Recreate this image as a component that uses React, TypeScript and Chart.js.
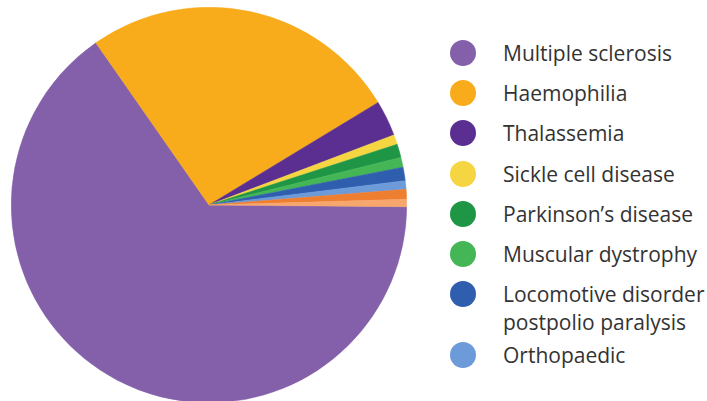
import React, { useEffect, useRef } from "react";
import { Chart, registerables } from "chart.js";

Chart.register(...registerables);

const categories = [
  "Multiple sclerosis",
  "Haemophilia",
  "Thalassemia",
  "Sickle cell disease",
  "Parkinson's disease",
  "Muscular dystrophy",
  "Locomotive disorder postpolio paralysis",
  "Orthopaedic",
  "Other (a)",
  "Other (b)",
];

const legendLines: string[][] = [
  ["Multiple sclerosis"],
  ["Haemophilia"],
  ["Thalassemia"],
  ["Sickle cell disease"],
  ["Parkinson\u2019s disease"],
  ["Muscular dystrophy"],
  ["Locomotive disorder", "postpolio paralysis"],
  ["Orthopaedic"],
  [],
  [],
];

const shownInLegend = [true, true, true, true, true, true, true, true, false, false];

const shares = [65.1, 26.0, 2.9, 0.8, 1.1, 0.8, 1.1, 0.7, 0.8, 0.6];

const colors = [
  "#8460aa",
  "#f8ab1b",
  "#5b2f91",
  "#f6d543",
  "#1f9546",
  "#44b655",
  "#2f5eae",
  "#6d9ad9",
  "#ee7e30",
  "#f7a66d",
];

export default function App() {
  const canvasRef = useRef<HTMLCanvasElement | null>(null);

  useEffect(() => {
    if (!canvasRef.current) return;
    const chart = new Chart(canvasRef.current, {
      type: "pie",
      data: {
        labels: categories,
        datasets: [
          {
            data: shares,
            backgroundColor: colors,
            borderColor: colors,
            borderWidth: 0.5,
          },
        ],
      },
      options: {
        animation: false,
        responsive: false,
        rotation: 90.5,
        layout: { padding: 0 },
        plugins: {
          legend: { display: false },
          tooltip: { enabled: false },
        },
      },
    });
    return () => chart.destroy();
  }, []);

  return (
    <div
      style={{
        position: "absolute",
        left: 0,
        top: 0,
        width: 707,
        height: 401,
        background: "#ffffff",
        overflow: "hidden",
      }}
    >
      <canvas
        ref={canvasRef}
        width={396}
        height={396}
        style={{ position: "absolute", left: 11, top: 7, width: 396, height: 396 }}
      />
      <div
        style={{
          position: "absolute",
          left: 450,
          top: 39,
          display: "flex",
          flexDirection: "column",
          gap: 12.2,
          fontFamily: "'Open Sans', Lato, sans-serif",
          fontSize: 21,
          color: "#333333",
        }}
      >
        {categories.map((c, i) =>
          shownInLegend[i] ? (
            <div
              key={c}
              style={{
                display: "flex",
                alignItems: "flex-start",
                marginBottom: legendLines[i].length > 1 ? -7 : 0,
              }}
            >
              <div
                style={{
                  width: 26,
                  height: 26,
                  borderRadius: "50%",
                  background: colors[i],
                  marginTop: 1,
                  flex: "none",
                }}
              />
              <div style={{ marginLeft: 27, lineHeight: "28px", whiteSpace: "nowrap" }}>
                {legendLines[i].map((t, j) => (
                  <div key={j}>{t}</div>
                ))}
              </div>
            </div>
          ) : null
        )}
      </div>
    </div>
  );
}
